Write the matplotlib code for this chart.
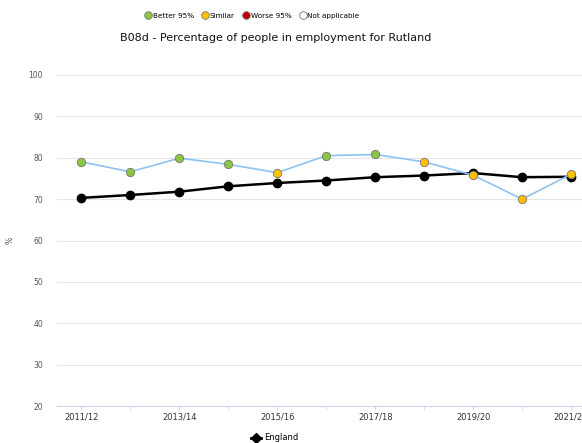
import numpy as np
import matplotlib
matplotlib.use("Agg")
import matplotlib.pyplot as plt
from matplotlib.lines import Line2D

# data
years = ["2011/12", "2012/13", "2013/14", "2014/15", "2015/16", "2016/17",
         "2017/18", "2018/19", "2019/20", "2020/21", "2021/22"]
rutland = [79.0, 76.6, 79.9, 78.4, 76.4, 80.5, 80.8, 79.0, 75.8, 70.0, 76.0]
england = [70.3, 71.0, 71.8, 73.1, 73.9, 74.5, 75.3, 75.7, 76.3, 75.3, 75.4]
rutland_status = ["better", "better", "better", "better", "similar", "better",
                  "better", "similar", "similar", "similar", "similar"]

status_colors = {"better": "#8cc63f", "similar": "#ffc000",
                 "worse": "#c00000", "na": "#ffffff"}

fig = plt.figure(figsize=(5.82, 4.43), dpi=100)
ax = fig.add_axes([57/582, 37/443, 538.5/582, 331/443])

x = np.arange(len(years))

# England line
ax.plot(x, england, color="black", lw=1.8, marker="o", ms=6,
        markerfacecolor="black", markeredgecolor="black", zorder=3)

# Rutland line with coloured markers
ax.plot(x, rutland, color="#8ec3f0", lw=1.2, zorder=4)
for xi, yi, st in zip(x, rutland, rutland_status):
    ax.plot(xi, yi, marker="o", ms=6, markerfacecolor=status_colors[st],
            markeredgecolor="#777777", markeredgewidth=0.6, zorder=5)

ax.set_xlim(-0.5, len(years) - 0.5)
ax.set_ylim(20, 100)
ax.set_yticks(np.arange(20, 101, 10))
ax.set_xticks(x[::2])
ax.set_xticklabels(years[::2])
ax.set_xticks(x, minor=True)

ax.grid(axis="y", color="#e6e6e6", lw=0.8)
ax.set_axisbelow(True)
for s in ["top", "right", "left"]:
    ax.spines[s].set_visible(False)
ax.spines["bottom"].set_color("#ccd6eb")
ax.tick_params(axis="y", length=0, labelsize=5.5, labelcolor="#555555", pad=10)
ax.tick_params(axis="x", which="both", length=3, color="#ccd6eb",
               labelsize=6, labelcolor="#333333", pad=2)
ax.set_ylabel("%", fontsize=5.5, color="#555555", labelpad=10)

fig.text(276/582, 1 - 38/443,
         "B08d - Percentage of people in employment for Rutland",
         ha="center", va="center", fontsize=8, color="#111111")

# top legend for significance colours
handles = [Line2D([], [], ls="", marker="o", ms=5.5,
                  markerfacecolor=status_colors[k], markeredgecolor="#777777",
                  markeredgewidth=0.6)
           for k in ["better", "similar", "worse", "na"]]
labels = ["Better 95%", "Similar", "Worse 95%", "Not applicable"]
fig.legend(handles, labels, loc="center", bbox_to_anchor=(252/582, 1 - 16/443),
           ncol=4, frameon=False, fontsize=5.2, handletextpad=0.1,
           columnspacing=1.1, handlelength=1.0)

# bottom legend for England
eng_handle = Line2D([], [], color="black", lw=2, marker="D", ms=5)
fig.legend([eng_handle], ["England"], loc="center",
           bbox_to_anchor=(275/582, 1 - 438/443), frameon=False,
           fontsize=6, handlelength=1.2, handletextpad=0.4)

fig.savefig("out.png", dpi=100)
